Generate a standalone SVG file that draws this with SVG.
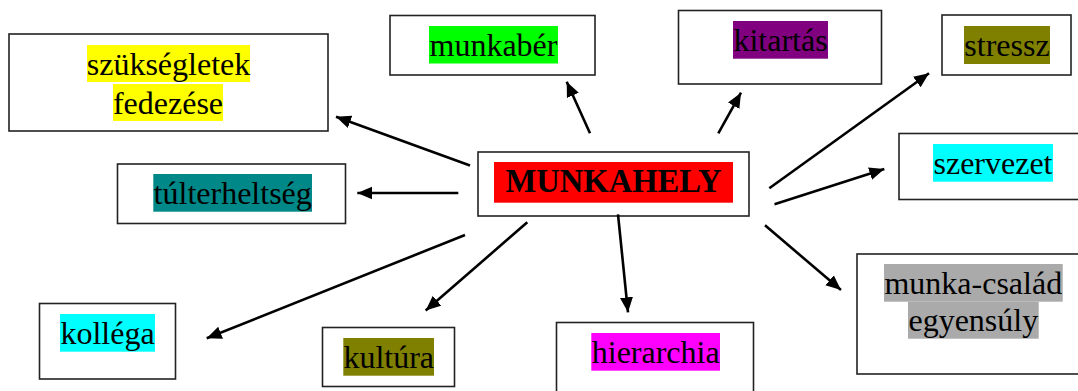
<svg xmlns="http://www.w3.org/2000/svg" width="1078" height="391" viewBox="0 0 1078 391">
<style>
.box{fill:#fff;stroke:#222;stroke-width:1.6}
.t{font-family:"Liberation Serif","Times New Roman",serif;font-size:32px;fill:#000;text-anchor:middle}
.b{font-weight:bold;font-size:34px}
.c line{stroke:#000;stroke-width:2.6;marker-end:url(#ah)}
</style>
<defs>
<marker id="ah" markerUnits="userSpaceOnUse" markerWidth="16" markerHeight="14" refX="15" refY="6.5" orient="auto">
<path d="M0,0 L15,6.5 L0,13 z" fill="#000"/>
</marker>
</defs>
<rect width="1078" height="391" fill="#fff"/>
<g id="n-szukseglet">
<rect class="box" x="9" y="34" width="319" height="97"/>
<rect x="87" y="45" width="163" height="37" fill="#FFFF00"/>
<rect x="113" y="84" width="110" height="37" fill="#FFFF00"/>
<text class="t" x="168.5" y="74.5">szükségletek</text>
<text class="t" x="168" y="113.8">fedezése</text>
</g>
<g id="n-munkaber">
<rect class="box" x="390" y="15.5" width="205" height="59.5"/>
<rect x="429" y="26" width="129" height="37.5" fill="#00FF00"/>
<text class="t" x="493.5" y="55.5">munkabér</text>
</g>
<g id="n-kitartas">
<rect class="box" x="678.5" y="10.5" width="203" height="73.5"/>
<rect x="733" y="21" width="95" height="37.7" fill="#800080"/>
<text class="t" x="780.5" y="50.5">kitartás</text>
</g>
<g id="n-stressz">
<rect class="box" x="942" y="15" width="129" height="60"/>
<rect x="964" y="26" width="86" height="38" fill="#808000"/>
<text class="t" x="1007" y="55.5">stressz</text>
</g>
<g id="n-szervezet">
<rect class="box" x="899" y="133.5" width="182" height="66"/>
<rect x="933" y="144" width="120" height="37.7" fill="#00FFFF"/>
<text class="t" x="993" y="173.5">szervezet</text>
</g>
<g id="n-tulterheltseg">
<rect class="box" x="117.5" y="164" width="228" height="59.5"/>
<rect x="153.3" y="174" width="158.7" height="37.7" fill="#008888"/>
<text class="t" x="232.7" y="203.5">túlterheltség</text>
</g>
<g id="n-munkahely">
<rect class="box" x="478" y="152" width="271" height="64"/>
<rect x="494" y="162" width="239" height="40.7" fill="#FF0000"/>
<text class="t b" x="613.5" y="192" textLength="216" lengthAdjust="spacingAndGlyphs">MUNKAHELY</text>
</g>
<g id="n-kollega">
<rect class="box" x="39.5" y="303.5" width="136" height="75.5"/>
<rect x="60" y="314" width="95" height="37.7" fill="#00FFFF"/>
<text class="t" x="107.5" y="343.5">kolléga</text>
</g>
<g id="n-kultura">
<rect class="box" x="322.5" y="327.5" width="132" height="59"/>
<rect x="343.3" y="338" width="90.7" height="37.7" fill="#808000"/>
<text class="t" x="388.7" y="367.5">kultúra</text>
</g>
<g id="n-hierarchia">
<rect class="box" x="556.5" y="322.5" width="197" height="80"/>
<rect x="591.3" y="333" width="128.7" height="37.7" fill="#FF00FF"/>
<text class="t" x="655.7" y="362.5">hierarchia</text>
</g>
<g id="n-munkacsalad">
<rect class="box" x="857" y="254" width="230" height="120"/>
<rect x="884" y="264" width="178.7" height="37.7" fill="#AAAAAA"/>
<rect x="908" y="301.7" width="130.7" height="37" fill="#AAAAAA"/>
<text class="t" x="973.3" y="293.5">munka-család</text>
<text class="t" x="973.3" y="331">egyensúly</text>
</g>
<g id="connectors" class="c">
<line x1="470" y1="165.5" x2="336" y2="116.7"/>
<line x1="458.3" y1="193" x2="357.3" y2="193"/>
<line x1="465" y1="235" x2="206.7" y2="338.3"/>
<line x1="527.3" y1="222.3" x2="425.7" y2="310.5"/>
<line x1="618" y1="214.3" x2="628" y2="312.3"/>
<line x1="765" y1="225.3" x2="841" y2="290"/>
<line x1="774.5" y1="204.3" x2="884.3" y2="169"/>
<line x1="769.3" y1="188.3" x2="929" y2="73.3"/>
<line x1="590" y1="133.3" x2="566.7" y2="81.7"/>
<line x1="718.3" y1="133.3" x2="741" y2="92.7"/>
</g>
</svg>
